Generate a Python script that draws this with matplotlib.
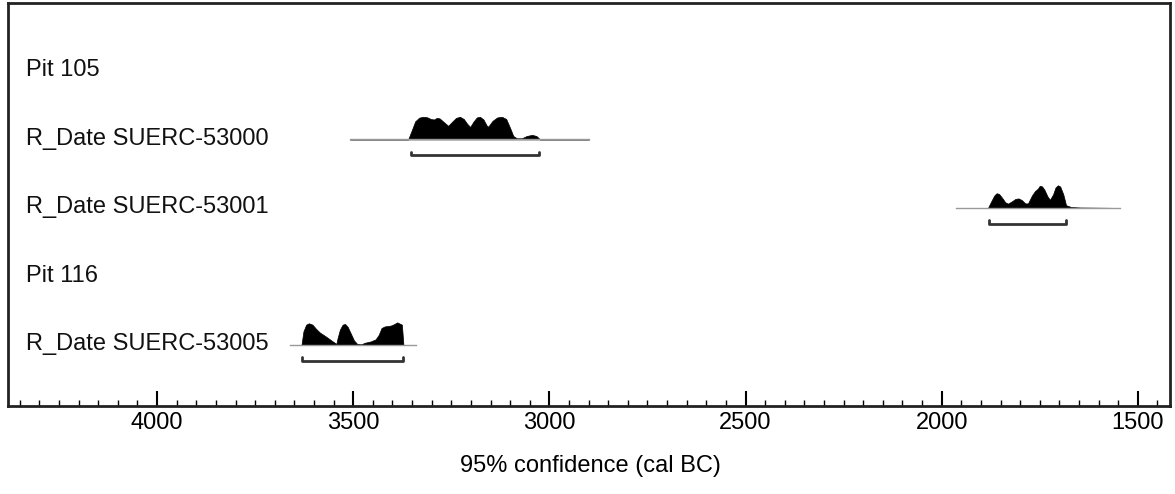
import numpy as np
import matplotlib.pyplot as plt

plt.rcParams['font.family'] = ['Liberation Sans', 'DejaVu Sans']

# row labels, top to bottom
labels = ["Pit 105", "R_Date SUERC-53000", "R_Date SUERC-53001", "Pit 116", "R_Date SUERC-53005"]

# probability outlines (cal BC, relative probability)
yr_53000 = [3508, 3360, 3352, 3342, 3332, 3322, 3312, 3302, 3294, 3287, 3280, 3270, 3258, 3248, 3238,
            3228, 3218, 3210, 3202, 3193, 3185, 3177, 3168, 3160, 3156, 3145, 3133, 3121, 3110,
            3100, 3092, 3083, 3070, 3058, 3044, 3033, 3024, 2899]
p_53000 = [0.0, 0.0, 0.35, 0.8, 0.96, 1.0, 0.98, 0.9, 0.88, 0.95, 0.93, 0.78, 0.6, 0.78, 0.95,
           1.0, 0.9, 0.7, 0.55, 0.8, 0.97, 1.0, 0.88, 0.62, 0.56, 0.82, 0.97, 1.0, 0.9,
           0.5, 0.15, 0.05, 0.05, 0.15, 0.2, 0.15, 0.0, 0.0]
rng_53000 = (3353, 3026)

yr_53001 = [1964, 1882, 1875, 1866, 1860, 1854, 1846, 1838, 1831, 1822, 1812, 1804, 1796, 1787, 1780,
            1770, 1762, 1755, 1750, 1744, 1738, 1730, 1724, 1716, 1710, 1704, 1698, 1690, 1683,
            1670, 1648, 1546]
p_53001 = [0.0, 0.0, 0.25, 0.55, 0.65, 0.62, 0.45, 0.25, 0.19, 0.28, 0.4, 0.42, 0.35, 0.2, 0.2,
           0.55, 0.75, 0.85, 0.98, 0.95, 0.8, 0.5, 0.36, 0.6, 0.9, 1.0, 0.95, 0.6, 0.12,
           0.04, 0.02, 0.0]
rng_53001 = (1880, 1683)

yr_53005 = [3661, 3632, 3627, 3620, 3613, 3604, 3595, 3585, 3570, 3554, 3543, 3540, 3534, 3527, 3521,
            3514, 3506, 3498, 3490, 3480, 3470, 3455, 3443, 3435, 3428, 3420, 3412, 3404, 3396,
            3388, 3382, 3376, 3372, 3340]
p_53005 = [0.0, 0.0, 0.6, 0.9, 0.96, 0.9, 0.72, 0.55, 0.38, 0.18, 0.05, 0.3, 0.68, 0.9, 0.93,
           0.8, 0.5, 0.2, 0.05, 0.03, 0.1, 0.16, 0.25, 0.45, 0.75, 0.82, 0.84, 0.86, 0.92,
           1.0, 0.95, 0.9, 0.0, 0.0]
rng_53005 = (3630, 3373)

dists = [(1, yr_53000, p_53000, rng_53000),
         (2, yr_53001, p_53001, rng_53001),
         (4, yr_53005, p_53005, rng_53005)]

fig = plt.figure(figsize=(11.75, 4.94), dpi=100)
ax = fig.add_axes([8 / 1175, 1 - 406 / 494, 1162 / 1175, 403 / 494])

h = 0.33  # peak height in rows
for row, yr, p, rng in dists:
    base = row + 0.04
    yr = np.array(yr)
    p = np.array(p)
    ax.plot([yr[0], yr[-1]], [base, base], color="#999999", lw=1)
    ax.fill_between(yr, base, base - p * h, color="black", lw=0.5, edgecolor="black")
    # 95% range bracket
    b = base + 0.23
    ax.plot([rng[0], rng[0], rng[1], rng[1]], [b - 0.05, b, b, b - 0.05],
            color="#333333", lw=2, solid_joinstyle="round", solid_capstyle="round")

for i, lab in enumerate(labels):
    ax.text(4335, i + 0.03, lab, fontsize=17, va="center", ha="left", color="#111111")

ax.set_xlim(4380, 1418)
ax.set_ylim(4.93, -0.95)
ax.set_yticks([])
ax.set_xticks([4000, 3500, 3000, 2500, 2000, 1500])
ax.set_xticks(np.arange(1450, 4400, 50), minor=True)
ax.tick_params(axis="x", which="major", direction="in", length=11, width=1.5, pad=4, labelsize=17)
ax.tick_params(axis="x", which="minor", direction="in", length=4, width=1)
for s in ax.spines.values():
    s.set_linewidth(2)
    s.set_color("#222222")

fig.text(590 / 1175, 1 - 466 / 494, "95% confidence (cal BC)", ha="center", va="center", fontsize=17)

plt.savefig("out.png", dpi=100)
